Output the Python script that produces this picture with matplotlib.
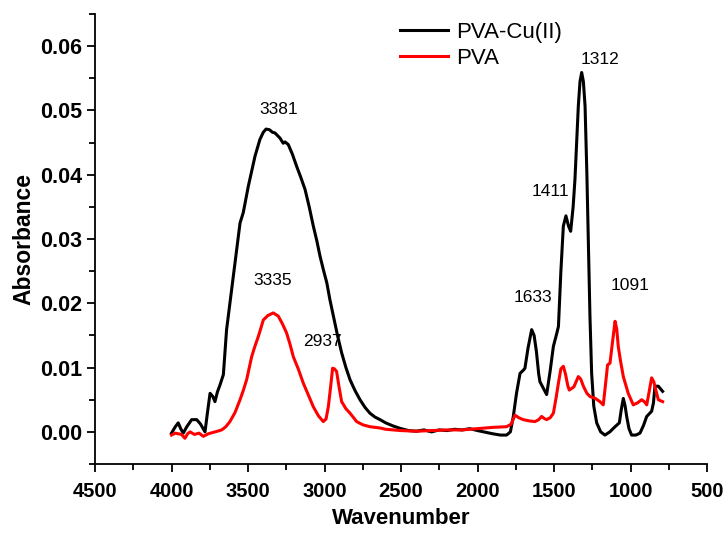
import matplotlib
matplotlib.use("Agg")
import matplotlib.pyplot as plt
from matplotlib.ticker import MultipleLocator

plt.rcParams['font.family'] = ['Liberation Sans', 'DejaVu Sans']

cu_x = [4000, 3975, 3956, 3940, 3923, 3900, 3868, 3835, 3810, 3781, 3765, 3748, 3730, 3716, 3700,
        3683, 3661, 3640, 3607, 3574, 3552, 3531, 3498, 3454, 3422, 3400, 3382, 3360, 3340, 3324,
        3291, 3270, 3258, 3237, 3210, 3182, 3155, 3127, 3100, 3073, 3050, 3029, 3005, 2985, 2965,
        2942, 2915, 2888, 2860, 2833, 2800, 2768, 2735, 2703, 2670, 2637, 2600, 2550, 2500, 2450,
        2400, 2350, 2300, 2250, 2200, 2150, 2100, 2050, 2000, 1960, 1900, 1850, 1810, 1785, 1766,
        1745, 1722, 1700, 1690, 1670, 1646, 1630, 1615, 1600, 1592, 1570, 1548, 1525, 1504, 1480,
        1471, 1455, 1439, 1422, 1405, 1391, 1375, 1363, 1350, 1341, 1330, 1319, 1308, 1297, 1285,
        1276, 1265, 1254, 1240, 1221, 1195, 1167, 1135, 1101, 1073, 1060, 1047, 1035, 1025, 1010,
        993, 965, 938, 915, 894, 862, 850, 840, 818, 800, 790]
cu_y = [-0.0002, 0.0008, 0.0014, 0.0005, -0.0002, 0.0008, 0.0019, 0.0019, 0.0012, 0.0000, 0.0030,
        0.0060, 0.0055, 0.0047, 0.0062, 0.0073, 0.0089, 0.0159, 0.0221, 0.0283, 0.0325, 0.0341,
        0.0382, 0.0429, 0.0455, 0.0466, 0.0471, 0.0470, 0.0466, 0.0465, 0.0457, 0.0449, 0.0451,
        0.0447, 0.0432, 0.0413, 0.0396, 0.0377, 0.0350, 0.0320, 0.0297, 0.0273, 0.0250, 0.0232,
        0.0206, 0.0180, 0.0150, 0.0123, 0.0100, 0.0081, 0.0064, 0.0050, 0.0038, 0.0029, 0.0023,
        0.0019, 0.0014, 0.0009, 0.0005, 0.0002, 0.0001, 0.0003, 0.0000, 0.0003, 0.0002, 0.0004,
        0.0003, 0.0005, 0.0002, 0.0000, -0.0003, -0.0005, -0.0005, 0.0000, 0.0024, 0.0060, 0.0091,
        0.0096, 0.0099, 0.0130, 0.0159, 0.0150, 0.0125, 0.0090, 0.0078, 0.0068, 0.0058, 0.0095,
        0.0133, 0.0155, 0.0164, 0.0250, 0.0320, 0.0336, 0.0320, 0.0312, 0.0350, 0.0393, 0.0460,
        0.0507, 0.0545, 0.0559, 0.0545, 0.0507, 0.0400, 0.0299, 0.0180, 0.0091, 0.0040, 0.0014,
        0.0000, -0.0005, 0.0000, 0.0008, 0.0014, 0.0035, 0.0052, 0.0040, 0.0024, 0.0005, -0.0005,
        -0.0005, -0.0002, 0.0010, 0.0024, 0.0032, 0.0045, 0.0071, 0.0071, 0.0066, 0.0063]

pva_x = [4000, 3975, 3956, 3935, 3912, 3895, 3879, 3850, 3820, 3792, 3760, 3730, 3700, 3672, 3645,
         3618, 3585, 3552, 3530, 3509, 3476, 3455, 3433, 3415, 3400, 3370, 3335, 3302, 3275, 3248,
         3225, 3204, 3170, 3139, 3105, 3073, 3040, 3008, 2990, 2975, 2960, 2947, 2935, 2921, 2905,
         2888, 2860, 2833, 2790, 2750, 2703, 2637, 2600, 2500, 2400, 2300, 2200, 2100, 2000, 1900,
         1810, 1780, 1755, 1730, 1701, 1660, 1624, 1600, 1581, 1565, 1548, 1525, 1504, 1485, 1471,
         1455, 1439, 1425, 1410, 1400, 1370, 1341, 1325, 1308, 1285, 1265, 1230, 1200, 1178, 1165,
         1150, 1134, 1120, 1101, 1090, 1080, 1065, 1047, 1015, 982, 955, 927, 905, 894, 880, 862,
         848, 829, 818, 800, 790]
pva_y = [-0.0005, -0.0002, -0.0003, -0.0004, -0.0010, -0.0003, 0.0000, -0.0004, -0.0002, -0.0007,
         -0.0003, -0.0001, 0.0001, 0.0003, 0.0008, 0.0016, 0.0030, 0.0050, 0.0065, 0.0081, 0.0117,
         0.0133, 0.0148, 0.0162, 0.0174, 0.0181, 0.0185, 0.0180, 0.0168, 0.0154, 0.0136, 0.0117,
         0.0097, 0.0076, 0.0057, 0.0039, 0.0025, 0.0016, 0.0020, 0.0039, 0.0070, 0.0099, 0.0098,
         0.0094, 0.0070, 0.0047, 0.0036, 0.0029, 0.0016, 0.0011, 0.0008, 0.0006, 0.0004, 0.0002,
         0.0001, 0.0002, 0.0003, 0.0003, 0.0005, 0.0007, 0.0008, 0.0012, 0.0026, 0.0022, 0.0019,
         0.0017, 0.0016, 0.0019, 0.0024, 0.0021, 0.0019, 0.0022, 0.0029, 0.0055, 0.0076, 0.0098,
         0.0102, 0.0090, 0.0072, 0.0065, 0.0070, 0.0086, 0.0082, 0.0071, 0.0060, 0.0055, 0.0052,
         0.0047, 0.0042, 0.0070, 0.0104, 0.0107, 0.0135, 0.0172, 0.0160, 0.0133, 0.0110, 0.0086,
         0.0060, 0.0042, 0.0045, 0.0050, 0.0046, 0.0042, 0.0060, 0.0084, 0.0078, 0.0060, 0.0050,
         0.0048, 0.0047]

peak_labels = ["3381", "3335", "2937", "1633", "1411", "1312", "1091"]
label_x = [3300, 3337, 3016, 1637, 1526, 1199, 1003]
label_y = [0.0502, 0.0235, 0.0140, 0.0209, 0.0374, 0.0580, 0.0227]

fig = plt.figure(figsize=(7.24, 5.33), dpi=100)
ax = fig.add_axes([95/724, 1-464/533, (707-95)/724, (464-14)/533])

ax.plot(cu_x, cu_y, color='black', lw=2.2, label='PVA-Cu(II)')
ax.plot(pva_x, pva_y, color='#ff0000', lw=2.2, label='PVA')

for t, x, y in zip(peak_labels, label_x, label_y):
    ax.text(x, y, t, fontsize=12.5, ha='center', va='center')

ax.set_xlim(4500, 500)
ax.set_ylim(-0.005, 0.065)
ax.xaxis.set_major_locator(MultipleLocator(500))
ax.xaxis.set_minor_locator(MultipleLocator(250))
ax.yaxis.set_minor_locator(MultipleLocator(0.005))
ax.set_yticks([0.0, 0.01, 0.02, 0.03, 0.04, 0.05, 0.06])
ax.set_yticklabels(['0.00', '0.01', '0.02', '0.03', '0.04', '0.05', '0.06'])

for s in ['top', 'right']:
    ax.spines[s].set_visible(False)
for s in ['left', 'bottom']:
    ax.spines[s].set_linewidth(1.3)
ax.tick_params(which='major', direction='out', length=6, width=1.3, labelsize=14.5)
ax.tick_params(axis='x', which='major', pad=7)
ax.tick_params(axis='y', which='major', labelsize=15.5)
ax.tick_params(which='minor', direction='out', length=4, width=1.3)
for lab in ax.get_xticklabels() + ax.get_yticklabels():
    lab.set_fontweight('bold')

ax.set_xlabel('Wavenumber', fontsize=16, fontweight='bold', labelpad=5)
ax.set_ylabel('Absorbance', fontsize=16.5, fontweight='bold', labelpad=3)

ax.legend(loc='upper left', bbox_to_anchor=(0.498, 0.982), frameon=False, fontsize=16,
          handlelength=2.15, handletextpad=0.4, labelspacing=0.2, borderpad=0, borderaxespad=0)

fig.savefig('out.png', dpi=100)
